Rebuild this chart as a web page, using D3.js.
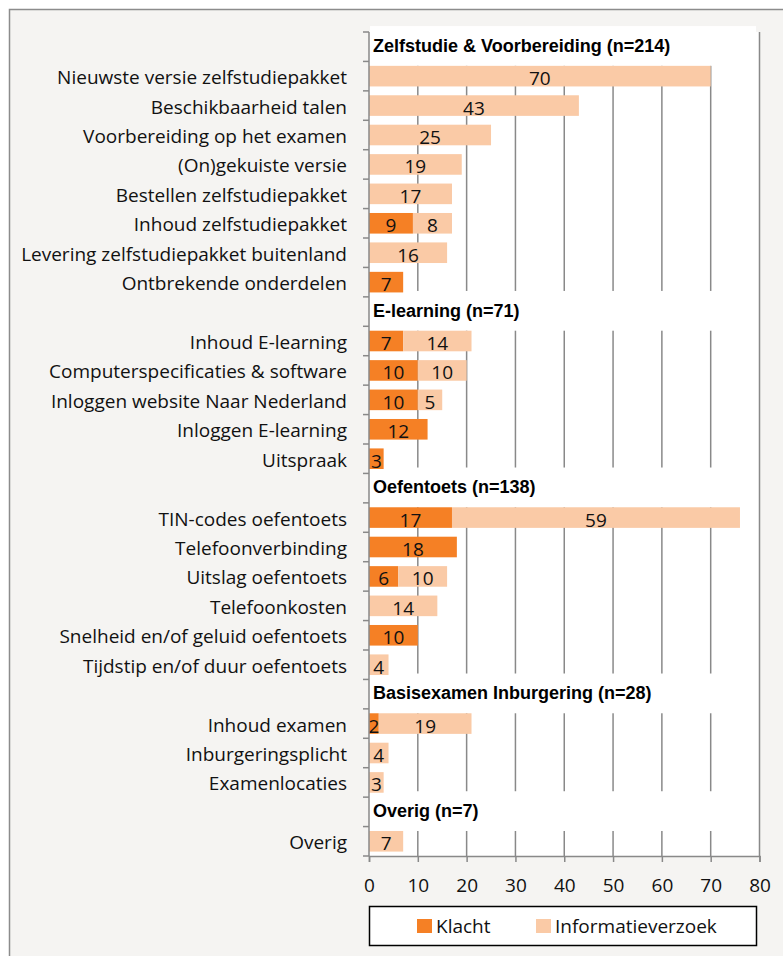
<!DOCTYPE html>
<html>
<head>
<meta charset="utf-8">
<script src="https://cdn.jsdelivr.net/npm/d3@7"></script>
<style>
  body { margin: 0; background: #fff; }
  svg { display: block; }
</style>
</head>
<body>
<script>
// rows of the chart, group headers included as empty rows
var categories = [
    "Zelfstudie & Voorbereiding (n=214)",
    "Nieuwste versie zelfstudiepakket",
    "Beschikbaarheid talen",
    "Voorbereiding op het examen",
    "(On)gekuiste versie",
    "Bestellen zelfstudiepakket",
    "Inhoud zelfstudiepakket",
    "Levering zelfstudiepakket buitenland",
    "Ontbrekende onderdelen",
    "E-learning (n=71)",
    "Inhoud E-learning",
    "Computerspecificaties & software",
    "Inloggen website Naar Nederland",
    "Inloggen E-learning",
    "Uitspraak",
    "Oefentoets (n=138)",
    "TIN-codes oefentoets",
    "Telefoonverbinding",
    "Uitslag oefentoets",
    "Telefoonkosten",
    "Snelheid en/of geluid oefentoets",
    "Tijdstip en/of duur oefentoets",
    "Basisexamen Inburgering (n=28)",
    "Inhoud examen",
    "Inburgeringsplicht",
    "Examenlocaties",
    "Overig (n=7)",
    "Overig"
];
var groupHeaders = [
    "Zelfstudie & Voorbereiding (n=214)",
    "E-learning (n=71)",
    "Oefentoets (n=138)",
    "Basisexamen Inburgering (n=28)",
    "Overig (n=7)"
];
var klacht = [null, 0, 0, 0, 0, 0, 9, 0, 7, null, 7, 10, 10, 12, 3, null, 17, 18, 6, 0, 10, 0, null, 2, 0, 0, null, 0];
var informatieverzoek = [null, 70, 43, 25, 19, 17, 8, 16, 0, null, 14, 10, 5, 0, 0, null, 59, 0, 10, 14, 0, 4, null, 19, 4, 3, null, 7];
var seriesNames = ["Klacht", "Informatieverzoek"];
var seriesColors = ["#f58025", "#facaa6"];
var xTicks = [0, 10, 20, 30, 40, 50, 60, 70, 80];

var W = 783, H = 956;
var plot = {left: 369, right: 759.5, top: 32, bottom: 856};
var gridColor = "#898989";
var font = "'Open Sans', Lato, sans-serif";
var fontSize = "19px";

var svg = d3.select("body").append("svg")
    .attr("width", W)
    .attr("height", H);

// chart area
svg.append("rect")
    .attr("x", 9.5).attr("y", 9.5)
    .attr("width", W + 20).attr("height", H + 20)
    .attr("fill", "#f5f4f2")
    .attr("stroke", "#8c8c8c")
    .attr("stroke-width", 1.5);

var x = d3.scaleLinear().domain([0, 80]).range([plot.left, plot.right]);
var y = d3.scaleBand()
    .domain(d3.range(categories.length))
    .range([plot.top, plot.bottom]);
var step = y.bandwidth();
var barH = step * 0.7;
var gap = step - barH;

// plot area
svg.append("rect")
    .attr("x", plot.left).attr("y", plot.top)
    .attr("width", plot.right - plot.left).attr("height", plot.bottom - plot.top)
    .attr("fill", "#fff");

// gridlines
svg.append("g").selectAll("line")
    .data(xTicks.slice(1))
    .enter().append("line")
    .attr("x1", function (d) { return x(d); })
    .attr("x2", function (d) { return x(d); })
    .attr("y1", plot.top)
    .attr("y2", plot.bottom)
    .attr("stroke", gridColor)
    .attr("stroke-width", 1.5);

var rows = categories.map(function (c, i) {
    return {
        name: c,
        i: i,
        header: groupHeaders.indexOf(c) >= 0,
        k: klacht[i],
        inf: informatieverzoek[i]
    };
});

// white boxes behind the group headers
var heads = rows.filter(function (d) { return d.header; });
svg.append("g").selectAll("rect")
    .data(heads)
    .enter().append("rect")
    .attr("x", plot.left + 1)
    .attr("y", function (d) { return y(d.i) - gap / 2 - 1.5; })
    .attr("width", x(79.3) - plot.left - 1)
    .attr("height", step + gap + 1.5)
    .attr("fill", "#fff");

svg.append("g").selectAll("text")
    .data(heads)
    .enter().append("text")
    .attr("x", plot.left + 4)
    .attr("y", function (d) { return y(d.i) + step / 2 + 5; })
    .attr("font-family", "'Liberation Sans', Arial, sans-serif")
    .attr("font-weight", "bold")
    .attr("font-size", "18px")
    .attr("fill", "#000")
    .text(function (d) { return d.name; });

// stacked segments
var segs = [];
rows.forEach(function (d) {
    if (d.header) return;
    var vals = [d.k, d.inf];
    var x0 = 0;
    vals.forEach(function (v, s) {
        if (v > 0) segs.push({i: d.i, s: s, x0: x0, x1: x0 + v, v: v});
        x0 += v;
    });
});

svg.append("g").selectAll("rect")
    .data(segs)
    .enter().append("rect")
    .attr("x", function (d) { return x(d.x0); })
    .attr("y", function (d) { return y(d.i) + gap / 2; })
    .attr("width", function (d) { return x(d.x1) - x(d.x0); })
    .attr("height", barH)
    .attr("fill", function (d) { return seriesColors[d.s]; });

svg.append("g").selectAll("text")
    .data(segs)
    .enter().append("text")
    .attr("x", function (d) { return x((d.x0 + d.x1) / 2); })
    .attr("y", function (d) { return y(d.i) + step / 2 + 9; })
    .attr("text-anchor", "middle")
    .attr("font-family", font)
    .attr("font-size", fontSize)
    .attr("fill", "#111")
    .text(function (d) { return d.v; });

// category labels
svg.append("g").selectAll("text")
    .data(rows.filter(function (d) { return !d.header; }))
    .enter().append("text")
    .attr("x", plot.left - 22)
    .attr("y", function (d) { return y(d.i) + step / 2 + 8; })
    .attr("text-anchor", "end")
    .attr("font-family", font)
    .attr("font-size", fontSize)
    .attr("fill", "#111")
    .text(function (d) { return d.name; });

// y axis with ticks between the rows
var yAxis = svg.append("g");
yAxis.append("line")
    .attr("x1", plot.left).attr("x2", plot.left)
    .attr("y1", plot.top).attr("y2", plot.bottom)
    .attr("stroke", gridColor).attr("stroke-width", 1.5);
yAxis.selectAll(".tk")
    .data(d3.range(categories.length + 1))
    .enter().append("line")
    .attr("class", "tk")
    .attr("x1", plot.left - 6).attr("x2", plot.left)
    .attr("y1", function (d) { return plot.top + d * step; })
    .attr("y2", function (d) { return plot.top + d * step; })
    .attr("stroke", gridColor).attr("stroke-width", 1.5);

// x axis
var xAxis = svg.append("g")
    .attr("transform", "translate(0," + plot.bottom + ")")
    .call(d3.axisBottom(x).tickValues(xTicks).tickSize(6).tickPadding(17));
xAxis.select(".domain").attr("stroke", gridColor).attr("stroke-width", 1.5);
xAxis.selectAll(".tick line").attr("stroke", gridColor).attr("stroke-width", 1.5);
xAxis.selectAll(".tick text")
    .attr("font-family", font)
    .attr("font-size", fontSize)
    .attr("fill", "#111");

// legend
var legend = svg.append("g");
legend.append("rect")
    .attr("x", 369.5).attr("y", 906.5)
    .attr("width", 387).attr("height", 39)
    .attr("fill", "#fff")
    .attr("stroke", "#000")
    .attr("stroke-width", 1.5);
var legX = [417, 536];
var item = legend.selectAll(".item")
    .data(seriesNames)
    .enter().append("g")
    .attr("class", "item")
    .attr("transform", function (d, i) { return "translate(" + legX[i] + ",919)"; });
item.append("rect")
    .attr("width", 15).attr("height", 14)
    .attr("fill", function (d, i) { return seriesColors[i]; });
item.append("text")
    .attr("x", 19).attr("y", 14)
    .attr("font-family", font)
    .attr("font-size", fontSize)
    .attr("fill", "#111")
    .text(function (d) { return d; });
</script>
</body>
</html>
